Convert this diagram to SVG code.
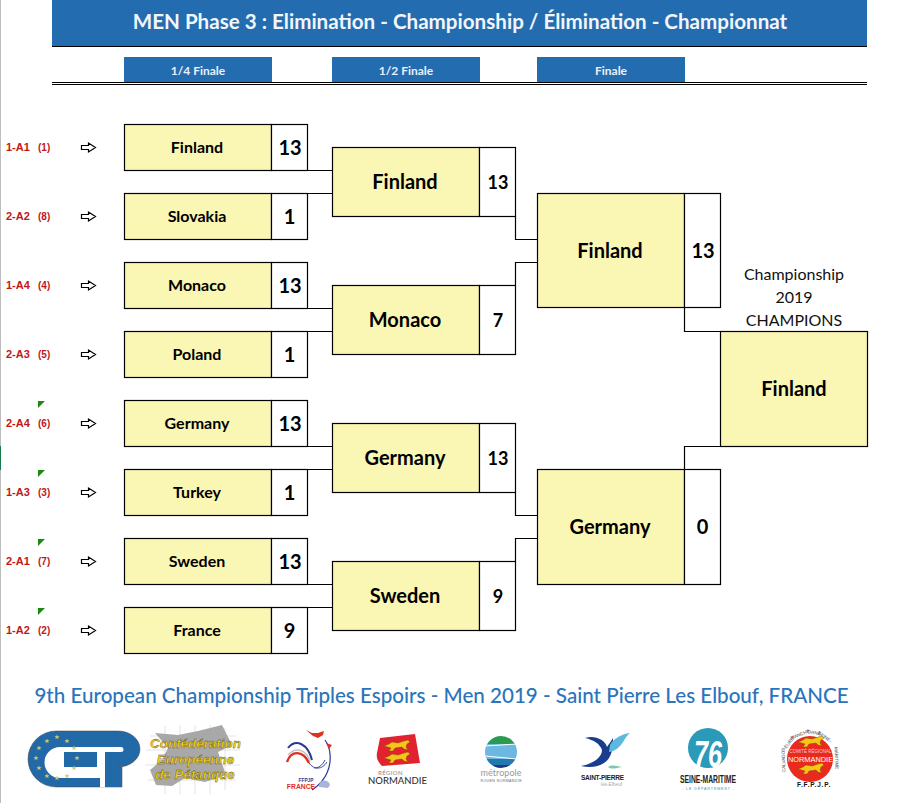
<svg xmlns="http://www.w3.org/2000/svg" xmlns:xlink="http://www.w3.org/1999/xlink" width="914" height="803" viewBox="0 0 914 803">
<style>
.l{font-family:Lato,"Noto Sans",sans-serif;font-weight:700;text-anchor:middle;fill:#000}
.team{fill:#faf6b4;stroke:#000;stroke-width:1.2}
.score{fill:#fff;stroke:#000;stroke-width:1.2}
.conn{fill:none;stroke:#000;stroke-width:1.2}
.seed{font-family:"Liberation Sans",Arial,sans-serif;font-weight:700;font-size:11px;fill:#c01818}
.seed2{font-family:"Liberation Sans",Arial,sans-serif;font-weight:700;font-size:10px;fill:#c01818}
.hd{fill:#246cb0}
.lion{fill:#f5c518;stroke:#6a4a00;stroke-width:.4}
.ar{font-family:"Liberation Sans",Arial,sans-serif}
</style>
<defs>
<polygon id="arrow" points="0,-2 7,-2 7,-4.5 14,0 7,4.5 7,2 0,2" fill="#fff" stroke="#000" stroke-width="1.2"/>
<polygon id="flag" points="0,0 7,0 0,7" fill="#1a8a10"/>
<path id="lionS" d="M0,3 L5,1 L8,-1 L14,0 L20,-2 L24,-3 L26,-1 L23,1 L22,4 L24,7 L20,6 L18,4 L11,5 L9,8 L5,8 L7,5 Z"/>
<polygon id="star" points="0,-2.6 .7,-.8 2.5,-.8 1.1,.4 1.6,2.2 0,1.1 -1.6,2.2 -1.1,.4 -2.5,-.8 -.7,-.8" fill="#d8c860"/>
</defs>
<rect width="914" height="803" fill="#fff"/>
<rect x="0" y="0" width="1" height="803" fill="#bdbdbd"/>
<rect x="0" y="446" width="1" height="24" fill="#1a7a4a"/>

<g id="header">
<rect class="hd" x="52" y="0" width="815" height="46"/>
<line x1="52" y1="46.5" x2="867" y2="46.5" stroke="#000" stroke-width="1"/>
<text x="460" y="29" font-family="Lato,'Noto Sans',sans-serif" font-weight="700" font-size="20.6px" text-anchor="middle" fill="#f2f6fa">MEN Phase 3 : Elimination - Championship / Élimination - Championnat</text>
<rect class="hd" x="124" y="57" width="148" height="26"/>
<rect class="hd" x="332" y="57" width="148" height="26"/>
<rect class="hd" x="537" y="57" width="148" height="26"/>
<g font-family="Lato,'Noto Sans',sans-serif" font-weight="700" font-size="12px" text-anchor="middle" fill="#e8f0f8">
<text x="198" y="75">1/4 Finale</text>
<text x="406" y="75">1/2 Finale</text>
<text x="611" y="75">Finale</text>
</g>
<line x1="52" y1="82.5" x2="867" y2="82.5" stroke="#000" stroke-width="1"/>
<line x1="52" y1="84.5" x2="867" y2="84.5" stroke="#000" stroke-width="1"/>
</g>

<g id="connectors">
<path class="conn" d="M307.5,170.5H332.5M307.5,193.5H332.5M307.5,308.5H332.5M307.5,331.5H332.5M307.5,446.5H332.5M307.5,469.5H332.5M307.5,584.5H332.5M307.5,607.5H332.5"/>
<path class="conn" d="M515.5,216.5V239.5H537.5M515.5,285.5V262.5H537.5M515.5,492.5V515.5H537.5M515.5,561.5V538.5H537.5"/>
<path class="conn" d="M684.5,307.5V331.5H720.5M684.5,469.5V446.5H720.5"/>
</g>

<g id="seeds">
<text class="seed" x="6" y="151">1-A1</text><text class="seed2" x="38" y="151">(1)</text><use xlink:href="#arrow" href="#arrow" x="81.5" y="147.5"/>
<text class="seed" x="6" y="220">2-A2</text><text class="seed2" x="38" y="220">(8)</text><use xlink:href="#arrow" href="#arrow" x="81.5" y="216.5"/>
<text class="seed" x="6" y="289">1-A4</text><text class="seed2" x="38" y="289">(4)</text><use xlink:href="#arrow" href="#arrow" x="81.5" y="285.5"/>
<text class="seed" x="6" y="358">2-A3</text><text class="seed2" x="38" y="358">(5)</text><use xlink:href="#arrow" href="#arrow" x="81.5" y="354.5"/>
<text class="seed" x="6" y="427">2-A4</text><text class="seed2" x="38" y="427">(6)</text><use xlink:href="#arrow" href="#arrow" x="81.5" y="423.5"/>
<text class="seed" x="6" y="496">1-A3</text><text class="seed2" x="38" y="496">(3)</text><use xlink:href="#arrow" href="#arrow" x="81.5" y="492.5"/>
<text class="seed" x="6" y="565">2-A1</text><text class="seed2" x="38" y="565">(7)</text><use xlink:href="#arrow" href="#arrow" x="81.5" y="561.5"/>
<text class="seed" x="6" y="634">1-A2</text><text class="seed2" x="38" y="634">(2)</text><use xlink:href="#arrow" href="#arrow" x="81.5" y="630.5"/>
<use xlink:href="#flag" href="#flag" x="38" y="401"/>
<use xlink:href="#flag" href="#flag" x="38" y="470"/>
<use xlink:href="#flag" href="#flag" x="38" y="539"/>
<use xlink:href="#flag" href="#flag" x="38" y="608"/>
</g>

<g id="qf1"><rect class="team" x="124.5" y="124.5" width="147" height="46"/><rect class="score" x="271.5" y="124.5" width="36" height="46"/><text class="l" font-size="16px" x="197" y="153">Finland</text><text class="l" font-size="20px" x="290" y="155">13</text></g>
<g id="qf2"><rect class="team" x="124.5" y="193.5" width="147" height="46"/><rect class="score" x="271.5" y="193.5" width="36" height="46"/><text class="l" font-size="16px" x="197" y="222">Slovakia</text><text class="l" font-size="20px" x="289.5" y="224">1</text></g>
<g id="qf3"><rect class="team" x="124.5" y="262.5" width="147" height="46"/><rect class="score" x="271.5" y="262.5" width="36" height="46"/><text class="l" font-size="16px" x="197" y="291">Monaco</text><text class="l" font-size="20px" x="290" y="293">13</text></g>
<g id="qf4"><rect class="team" x="124.5" y="331.5" width="147" height="46"/><rect class="score" x="271.5" y="331.5" width="36" height="46"/><text class="l" font-size="16px" x="197" y="360">Poland</text><text class="l" font-size="20px" x="289.5" y="362">1</text></g>
<g id="qf5"><rect class="team" x="124.5" y="400.5" width="147" height="46"/><rect class="score" x="271.5" y="400.5" width="36" height="46"/><text class="l" font-size="16px" x="197" y="429">Germany</text><text class="l" font-size="20px" x="290" y="431">13</text></g>
<g id="qf6"><rect class="team" x="124.5" y="469.5" width="147" height="46"/><rect class="score" x="271.5" y="469.5" width="36" height="46"/><text class="l" font-size="16px" x="197" y="498">Turkey</text><text class="l" font-size="20px" x="289.5" y="500">1</text></g>
<g id="qf7"><rect class="team" x="124.5" y="538.5" width="147" height="46"/><rect class="score" x="271.5" y="538.5" width="36" height="46"/><text class="l" font-size="16px" x="197" y="567">Sweden</text><text class="l" font-size="20px" x="290" y="569">13</text></g>
<g id="qf8"><rect class="team" x="124.5" y="607.5" width="147" height="46"/><rect class="score" x="271.5" y="607.5" width="36" height="46"/><text class="l" font-size="16px" x="197" y="636">France</text><text class="l" font-size="20px" x="289.5" y="638">9</text></g>

<g id="sf1"><rect class="team" x="332.5" y="147.5" width="147" height="69"/><rect class="score" x="479.5" y="147.5" width="36" height="69"/><text class="l" font-size="20px" x="405" y="189">Finland</text><text class="l" font-size="18px" x="498" y="188.5">13</text></g>
<g id="sf2"><rect class="team" x="332.5" y="285.5" width="147" height="69"/><rect class="score" x="479.5" y="285.5" width="36" height="69"/><text class="l" font-size="20px" x="405" y="327">Monaco</text><text class="l" font-size="18px" x="498" y="326.5">7</text></g>
<g id="sf3"><rect class="team" x="332.5" y="423.5" width="147" height="69"/><rect class="score" x="479.5" y="423.5" width="36" height="69"/><text class="l" font-size="20px" x="405" y="465">Germany</text><text class="l" font-size="18px" x="498" y="464.5">13</text></g>
<g id="sf4"><rect class="team" x="332.5" y="561.5" width="147" height="69"/><rect class="score" x="479.5" y="561.5" width="36" height="69"/><text class="l" font-size="20px" x="405" y="603">Sweden</text><text class="l" font-size="18px" x="498" y="602.5">9</text></g>

<g id="f1"><rect class="team" x="537.5" y="193.5" width="147" height="114"/><rect class="score" x="684.5" y="193.5" width="36" height="114"/><text class="l" font-size="20px" x="610" y="258">Finland</text><text class="l" font-size="20px" x="703" y="258">13</text></g>
<g id="f2"><rect class="team" x="537.5" y="469.5" width="147" height="115"/><rect class="score" x="684.5" y="469.5" width="36" height="115"/><text class="l" font-size="20px" x="610" y="534">Germany</text><text class="l" font-size="20px" x="702.5" y="534">0</text></g>

<g id="champion"><rect class="team" x="720.5" y="331.5" width="147" height="115"/><text class="l" font-size="20px" x="794" y="396">Finland</text>
<g font-family="Lato,'Noto Sans',sans-serif" font-size="16px" text-anchor="middle" fill="#111">
<text x="794" y="280">Championship</text><text x="794" y="303">2019</text><text x="794" y="326">CHAMPIONS</text></g></g>

<text id="footer" x="441.5" y="703" font-family="Lato,'Noto Sans',sans-serif" font-weight="500" font-size="20.6px" text-anchor="middle" fill="#2a74bc">9th European Championship Triples Espoirs - Men 2019 - Saint Pierre Les Elbouf, FRANCE</text>

<g id="logo-cep">
<path d="M150,736H236M146,750H240M145,765H240M148,780H236M165,726V794M180,725V794M195,725V794M210,725V794M225,728V790" stroke="#d0d0d0" stroke-width=".6" fill="none"/>
<path d="M155,733 L178,735 L198,731 L222,725 L232,745 L218,752 L226,775 L205,782 L185,778 L172,786 L156,785 L150,770 L162,760 L168,748Z" fill="#a8a8a8"/>
<path d="M56,731H118A22,18 0 0 1 140,749A22,18 0 0 1 118,767H122V787H56A28,28 0 0 1 56,731Z" fill="#2269a8" stroke="#444" stroke-width=".5"/>
<path d="M122,767V787H105V767Z" fill="#2269a8"/>
<path d="M60,747H121A2.500,2.500 0 0 1 121,752H105V787.300H100V778H60A15.500,15.500 0 0 1 60,747Z" fill="#fff"/>
<rect x="64" y="752" width="33" height="15" fill="#2269a8"/>
<use xlink:href="#star" href="#star" x="47" y="741"/><use xlink:href="#star" href="#star" x="57" y="737"/><use xlink:href="#star" href="#star" x="67" y="741"/><use xlink:href="#star" href="#star" x="39" y="748"/><use xlink:href="#star" href="#star" x="36" y="758"/><use xlink:href="#star" href="#star" x="39" y="768"/><use xlink:href="#star" href="#star" x="47" y="776"/><use xlink:href="#star" href="#star" x="57" y="778"/><use xlink:href="#star" href="#star" x="67" y="776"/><use xlink:href="#star" href="#star" x="74" y="748"/><use xlink:href="#star" href="#star" x="77" y="758"/><use xlink:href="#star" href="#star" x="74" y="768"/>
<g class="ar" font-weight="700" font-style="italic" font-size="13.4px" text-anchor="middle" fill="#f5d21d" stroke="#5a4a10" stroke-width=".35">
<text x="195.5" y="748">Confédération</text><text x="195.5" y="764">Européenne</text><text x="195" y="779">de Pétanque</text></g>
</g>

<g id="logo-ffpjp-france" fill="none">
<path d="M325,740C331,748 332,762 327,773C323,782 318,786 312,790" stroke="#2a3a94" stroke-width="1.2"/>
<path d="M306,730L313,736 318,738 323,735 324,731 318,733 312,733Z" fill="#e0301e"/>
<path d="M326,743L332,745 329,749Z" fill="#e0301e"/>
<path d="M288,748C296,738 308,744 312,760" stroke="#2a3a94" stroke-width="2"/>
<path d="M288,755C296,746 306,750 310,761" stroke="#c4c4c4" stroke-width="1.5"/>
<path d="M287,762C291,750 303,750 309,763" stroke="#e0301e" stroke-width="2.4"/>
<path d="M309,763C314,770 322,770 327,762M314,768C318,768 322,766 325,760" stroke="#2a3a94" stroke-width=".9"/>
<path d="M319,787A5.5,5.5 0 0 1 330,785L328,788Z" fill="#aab4d8"/>
<text x="306" y="781.5" class="ar" font-weight="700" font-size="4.8px" text-anchor="middle" fill="#2a3a94">FFPJP</text>
<text x="301" y="788.5" class="ar" font-weight="700" font-size="6.8px" text-anchor="middle" fill="#e0301e">FRANCE</text>
</g>

<g id="logo-normandie">
<path d="M380,738L415,734 420,763 382,766C378,762 376,758 377,753Z" fill="#e0232e"/>
<g class="lion"><use xlink:href="#lionS" href="#lionS" x="384" y="743"/><use xlink:href="#lionS" href="#lionS" x="384" y="755"/></g>
<text x="378" y="775" font-family="Lato,sans-serif" font-size="6px" fill="#888" letter-spacing=".4">RÉGION</text>
<text x="368" y="783.5" font-family="Lato,'Noto Sans',sans-serif" font-size="9.500px" font-weight="500" fill="#333" textLength="59">NORMANDIE</text>
</g>

<g id="logo-metropole">
<clipPath id="mc"><circle cx="501" cy="752" r="16"/></clipPath>
<g clip-path="url(#mc)">
<rect x="485" y="736" width="32" height="8" fill="#2a9a50"/>
<rect x="485" y="744" width="32" height="15" fill="#6cb8e0"/>
<rect x="485" y="759" width="32" height="6" fill="#2478b0"/>
<rect x="485" y="765" width="32" height="6" fill="#1a3a84"/>
<path d="M485,746L517,744M485,756L517,759" stroke="#fff" stroke-width="1"/>
</g>
<text x="501" y="776" font-family="Lato,'Noto Sans',sans-serif" font-size="9px" text-anchor="middle" fill="#999" textLength="41">métropole</text>
<text x="501" y="781.5" class="ar" font-size="3.500px" text-anchor="middle" fill="#666" textLength="41">ROUEN NORMANDIE</text>
</g>

<g id="logo-saint-pierre">
<path d="M585,738C595,735 605,740 607,747C609,744 612,740 613,738C613,748 612,758 604,763C598,767 590,768 581,766C592,764 602,758 602,750C600,744 594,740 585,738Z" fill="#1a3e8e"/>
<path d="M610,745C614,738 622,734 630,733C625,737 624,742 620,746C616,750 612,752 609,752Z" fill="#5cb8dc"/>
<path d="M608,767C612,764 616,766 622,767C616,768 612,770 608,767Z" fill="#7cc8b0"/>
<text x="602.5" y="780" class="ar" font-weight="700" font-size="6.500px" text-anchor="middle" fill="#222" textLength="43">SAINT-PIERRE</text>
<text x="611.5" y="786" class="ar" font-size="4.800px" text-anchor="middle" fill="#aaa">lès-Elbeuf</text>
</g>

<g id="logo-76">
<circle cx="708" cy="748" r="20" fill="#2a9ab8"/>
<text x="708" y="767" class="ar" font-weight="700" font-style="italic" font-size="36px" text-anchor="middle" fill="#fff" textLength="28" lengthAdjust="spacingAndGlyphs">76</text>
<text x="708" y="783" class="ar" font-weight="700" font-size="11px" text-anchor="middle" fill="#222" textLength="56" lengthAdjust="spacingAndGlyphs">SEINE-MARITIME</text>
<text x="708" y="789.5" class="ar" font-size="3.500px" text-anchor="middle" fill="#2a9ab8" textLength="52">- LE DÉPARTEMENT -</text>
</g>

<g id="logo-comite">
<circle cx="810" cy="759" r="23" fill="#ea2a1e"/>
<g class="ar" font-size="4.600px" fill="#444" text-anchor="middle">
<text x="810" y="734" transform="rotate(-92 810 759)">CALVADOS</text>
<text x="810" y="734" transform="rotate(-52 810 759)">EURE</text>
<text x="810" y="734" transform="rotate(-22 810 759)">MANCHE</text>
<text x="810" y="734" transform="rotate(9 810 759)">ORNE</text>
<text x="810" y="734" transform="rotate(34 810 759)">SEINE-</text>
<text x="810" y="734" transform="rotate(88 810 759)">MARITIME</text>
</g>
<g fill="#e0232e"><circle cx="792.5" cy="737" r=".8"/><circle cx="808" cy="730.5" r=".8"/><circle cx="819.5" cy="732" r=".8"/></g>
<g class="lion"><use xlink:href="#lionS" href="#lionS" x="798" y="739"/><use xlink:href="#lionS" href="#lionS" x="798" y="766"/></g>
<text x="810.5" y="753" class="ar" font-size="4.500px" text-anchor="middle" fill="#f6d0c8">COMITÉ RÉGIONAL</text>
<text x="810.5" y="762" class="ar" font-size="7.400px" text-anchor="middle" fill="#fff">NORMANDIE</text>
<text x="814" y="786.5" class="ar" font-weight="700" font-size="6.500px" text-anchor="middle" fill="#111" letter-spacing=".8">F.F.P.J.P.</text>
</g>
</svg>
